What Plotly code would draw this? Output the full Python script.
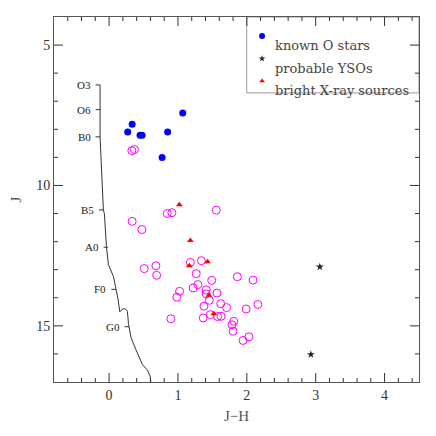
import numpy as np
import plotly.graph_objects as go

# known O stars
o_jh = [1.07, 0.335, 0.27, 0.45, 0.48, 0.85, 0.77]
o_j = [7.42, 7.82, 8.10, 8.21, 8.21, 8.10, 9.00]

# probable YSOs
yso_jh = [3.06, 2.93]
yso_j = [12.90, 16.02]

# bright X-ray sources
xr_jh = [1.02, 1.18, 1.164, 1.43, 1.45, 1.52]
xr_j = [10.69, 11.96, 12.86, 12.72, 13.91, 14.57]

# other sources (open circles)
src_jh = [0.33, 0.368, 0.844, 0.912, 1.556, 0.335, 0.476, 0.51, 0.68, 0.69,
          1.18, 1.34, 1.265, 1.49, 1.22, 1.29, 1.023, 0.985, 1.41, 1.41,
          1.566, 1.455, 1.377, 1.47, 1.367, 0.897, 1.575, 1.625, 1.862, 2.09,
          1.62, 1.706, 1.99, 2.16, 1.81, 1.785, 1.80, 2.03, 1.945]
src_j = [8.76, 8.72, 11.00, 10.97, 10.88, 11.28, 11.57, 12.96, 12.86, 13.20,
         12.74, 12.68, 13.14, 13.38, 13.65, 13.53, 13.77, 13.98, 13.72, 13.86,
         13.83, 14.09, 14.30, 14.60, 14.72, 14.75, 14.67, 14.66, 13.25, 13.37,
         14.21, 14.35, 14.40, 14.24, 14.84, 14.96, 15.19, 15.39, 15.52]

# main sequence
ms_jh = [-0.131, -0.131, -0.083, -0.068, -0.039, -0.010, 0.063, 0.102, 0.131,
         0.156, 0.193, 0.233, 0.266, 0.281, 0.32, 0.388, 0.484, 0.557, 0.596, 0.607]
ms_j = [6.42, 8.27, 10.87, 11.01, 12.17, 12.82, 13.24, 13.68, 14.07,
        14.50, 14.40, 14.39, 14.48, 14.92, 15.43, 15.84, 16.38, 16.58, 16.79, 16.98]

# spectral types along main sequence
sp_types = ["O3", "O6", "B0", "B5", "A0", "F0", "G0"]
sp_j = [6.42, 7.30, 8.27, 10.87, 12.20, 13.70, 15.03]
sp_jh = [-0.131, -0.131, -0.131, -0.083, -0.015, 0.097, 0.29]

legend_names = ["known O stars", "probable YSOs", "bright X-ray sources"]

# axis ticks
x_range = [-0.8, 4.5]
y_range = [17, 4]
x_major = [0, 1, 2, 3, 4]
y_major = [5, 10, 15]
x_minor = [float(v) for v in np.round(np.arange(-0.6, 4.5, 0.2), 1) if v not in x_major]
y_minor = [v for v in range(5, 17) if v not in y_major]

W, H = 428, 428
margin = dict(l=46, r=17, t=9, b=54)
plot_w = W - margin["l"] - margin["r"]
plot_h = H - margin["t"] - margin["b"]
# data units per pixel, used for the tick lengths
dx = (x_range[1] - x_range[0]) / plot_w
dy = (y_range[0] - y_range[1]) / plot_h

font = "Liberation Serif"
grey = "#555555"

fig = go.Figure()

# ticks on all four sides, pointing inwards
ax_x, ax_y = [], []
for vals, ln in [(x_major, 9), (x_minor, 4)]:
    for v in vals:
        ax_x += [v, v, None, v, v, None]
        ax_y += [y_range[0], y_range[0] - ln * dy, None,
                 y_range[1], y_range[1] + ln * dy, None]
for vals, ln in [(y_major, 9), (y_minor, 4)]:
    for v in vals:
        ax_x += [x_range[0], x_range[0] + ln * dx, None,
                 x_range[1], x_range[1] - ln * dx, None]
        ax_y += [v, v, None, v, v, None]
fig.add_trace(go.Scatter(x=ax_x, y=ax_y, mode="lines", showlegend=False,
                         hoverinfo="skip", line=dict(color="#333333", width=1)))

fig.add_trace(go.Scatter(x=ms_jh, y=ms_j, mode="lines", showlegend=False,
                         line=dict(color="#333333", width=1)))

# little ticks pointing left from the main sequence
tick_x, tick_y = [], []
for xx, yy in zip(sp_jh, sp_j):
    tick_x += [xx - 0.065, xx, None]
    tick_y += [yy, yy, None]
fig.add_trace(go.Scatter(x=tick_x, y=tick_y, mode="lines", showlegend=False,
                         line=dict(color="#333333", width=1)))
for name, xx, yy in zip(sp_types, sp_jh, sp_j):
    fig.add_annotation(x=xx - 0.065, y=yy, text=name, showarrow=False,
                       xanchor="right", xshift=-3,
                       font=dict(family=font, size=11, color="#222222"))

fig.add_trace(go.Scatter(x=src_jh, y=src_j, mode="markers", showlegend=False,
                         marker=dict(symbol="circle-open", size=8, color="#ff00ff",
                                     line=dict(width=1))))
o_marker = dict(symbol="circle", size=7, color="#0000ff")
yso_marker = dict(symbol="star", size=6, color="#222222")
xr_marker = dict(symbol="triangle-up", size=6, color="#ff0000")
fig.add_trace(go.Scatter(x=o_jh, y=o_j, mode="markers", marker=o_marker, showlegend=False))
fig.add_trace(go.Scatter(x=yso_jh, y=yso_j, mode="markers", marker=yso_marker, showlegend=False))
fig.add_trace(go.Scatter(x=xr_jh, y=xr_j, mode="markers", marker=xr_marker, showlegend=False))

# hand-made legend box in the top right corner
fig.add_shape(type="rect", xref="paper", yref="paper", x0=0.528, x1=1.0, y0=0.792, y1=1.0,
              line=dict(color="#999999", width=1), fillcolor="white", layer="below")
leg_y = [0.948, 0.886, 0.825]
for name, ly, mk in zip(legend_names, leg_y, [o_marker, yso_marker, xr_marker]):
    fig.add_trace(go.Scatter(x=[0.57], y=[ly], xaxis="x2", yaxis="y2", mode="markers",
                             marker=dict(mk, size=mk["size"] - 1), showlegend=False,
                             hoverinfo="skip"))
    fig.add_annotation(xref="paper", yref="paper", x=0.60, y=ly, text=name,
                       showarrow=False, xanchor="left",
                       font=dict(family="DejaVu Serif", size=13, color="#444444"))

axis_common = dict(showgrid=False, zeroline=False, showline=True, linecolor=grey,
                   linewidth=1, mirror=True, ticks="", automargin=False,
                   tickfont=dict(family=font, size=14, color="#333333"))

fig.update_xaxes(range=x_range, tickvals=x_major,
                 title=dict(text="J\u2212H", font=dict(family=font, size=15, color=grey),
                            standoff=8),
                 **axis_common)
fig.update_yaxes(range=y_range, tickvals=y_major, ticksuffix="\u2002",
                 title=dict(text="J", font=dict(family=font, size=15, color=grey),
                            standoff=14),
                 **axis_common)

fig.update_layout(
    width=W, height=H,
    margin=margin,
    plot_bgcolor="white", paper_bgcolor="white",
    xaxis2=dict(overlaying="x", range=[0, 1], visible=False, fixedrange=True),
    yaxis2=dict(overlaying="y", range=[0, 1], visible=False, fixedrange=True),
)

fig.write_html("out.html")
